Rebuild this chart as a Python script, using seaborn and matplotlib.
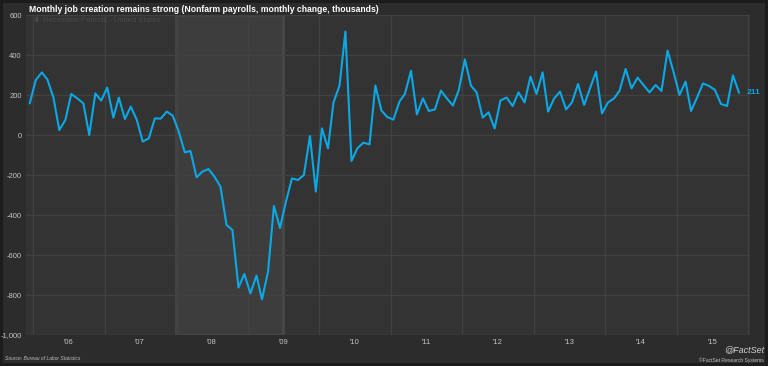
import pandas as pd
import matplotlib.pyplot as plt
import seaborn as sns

# --- data: monthly change in nonfarm payrolls (thousands), Dec 2005 - Nov 2015 ---
start_month = "2005-12-01"
payrolls = [
    158,
    275, 313, 278, 188, 25, 75, 205, 183, 158, 0, 208, 172,          # 2006
    237, 87, 187, 80, 142, 75, -33, -17, 83, 82, 117, 97,            # 2007
    17, -87, -80, -212, -183, -170, -208, -258, -450, -475, -763, -695,  # 2008
    -792, -703, -822, -683, -355, -465, -335, -217, -225, -200, -5, -283,  # 2009
    33, -67, 162, 247, 517, -130, -67, -38, -47, 247, 122, 90,       # 2010
    77, 167, 206, 321, 103, 183, 120, 128, 222, 183, 147, 225,       # 2011
    378, 247, 213, 87, 113, 33, 173, 187, 145, 213, 163, 292,        # 2012
    205, 313, 117, 183, 217, 128, 163, 255, 150, 233, 317, 108,      # 2013
    163, 183, 222, 330, 233, 287, 250, 213, 250, 220, 422, 317,      # 2014
    200, 267, 120, 188, 258, 245, 225, 155, 145, 298, 211,           # 2015
]
years = list(range(2006, 2016))
year_labels = ["'06", "'07", "'08", "'09", "'10", "'11", "'12", "'13", "'14", "'15"]
y_ticks = [-1000, -800, -600, -400, -200, 0, 200, 400, 600]
recession = ("2008-01-01", "2009-07-01")

# points sit at mid-month
dates = pd.date_range(start_month, periods=len(payrolls), freq="MS") + pd.Timedelta(days=14)
df = pd.DataFrame({"date": dates, "jobs": payrolls})

fig_bg = "#2c2c2c"
ax_bg = "#333333"
grid_c = "#414141"
line_c = "#0ba8e6"
tick_c = "#c4c4c4"

sns.set_style("dark", {"axes.facecolor": ax_bg, "figure.facecolor": fig_bg})
plt.rcParams["font.family"] = ["Liberation Sans", "DejaVu Sans"]

fig = plt.figure(figsize=(7.68, 3.66), dpi=100)
fig.patch.set_edgecolor("#1c1c1c")
fig.patch.set_linewidth(3)
ax = fig.add_axes([26 / 768, 1 - 335 / 366, (750 - 26) / 768, (335 - 15) / 366])

# recession shading
ax.axvspan(pd.Timestamp(recession[0]), pd.Timestamp(recession[1]),
           facecolor="#3d3d3d", edgecolor="#484848", linewidth=2, zorder=0)

# grid lines
for y in y_ticks:
    ax.axhline(y, color=grid_c, lw=1, zorder=0.5)
for yr in years + [2016]:
    ax.axvline(pd.Timestamp(f"{yr}-01-01"), color=grid_c, lw=1, zorder=0.5)

sns.lineplot(data=df, x="date", y="jobs", ax=ax, color=line_c, lw=1.5, zorder=3)

ax.set_xlim(pd.Timestamp("2005-11-26"), pd.Timestamp("2016-01-10"))
ax.set_ylim(-1000, 600)
ax.set_yticks(y_ticks)
ax.set_yticklabels([f"{v:,}" for v in y_ticks])
ax.set_xticks([pd.Timestamp(f"{yr}-07-01") for yr in years])
ax.set_xticklabels(year_labels)
ax.tick_params(colors=tick_c, labelsize=5.5, length=0, pad=3)
ax.set_xlabel("")
ax.set_ylabel("")
for s in ax.spines.values():
    s.set_visible(False)

# last value label
ax.text(df["date"].iloc[-1] + pd.Timedelta(days=40), payrolls[-1], str(payrolls[-1]),
        color=line_c, fontsize=6, fontweight="bold", va="center", ha="left")

# legend-like label for recession shading
fig.text(34 / 768, 1 - 20 / 366, "\u25ae", color="#4c4c4c", fontsize=5, va="center")
fig.text(43 / 768, 1 - 20 / 366, "Recession Periods - United States", color="#4a4a4a",
         fontsize=5.5, va="center")

fig.text(29 / 768, 1 - 9 / 366,
         "Monthly job creation remains strong (Nonfarm payrolls, monthly change, thousands)",
         color="white", fontsize=6.2, fontweight="bold", va="center")
fig.text(5 / 768, 1 - 358 / 366, "Source: Bureau of Labor Statistics", color="#bdbdbd",
         fontsize=3.6, style="italic", va="center")
fig.text(764 / 768, 1 - 350 / 366, "@FactSet", color="#d0d0d0", fontsize=6.5,
         style="italic", ha="right", va="center")
fig.text(764 / 768, 1 - 360 / 366, "\u00a9FactSet Research Systems", color="#bdbdbd",
         fontsize=3.6, ha="right", va="center")

fig.savefig("out.png", dpi=100, facecolor=fig.get_facecolor(), edgecolor=fig.patch.get_edgecolor())
